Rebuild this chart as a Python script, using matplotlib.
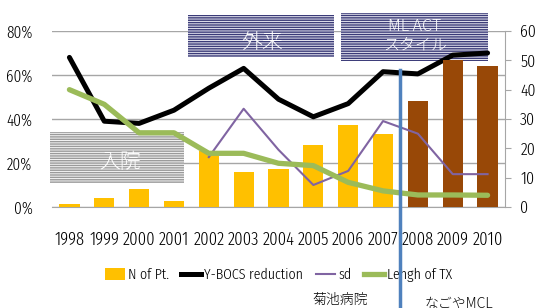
import matplotlib
matplotlib.use("Agg")
import matplotlib.pyplot as plt
from matplotlib.patches import Rectangle, Patch
from matplotlib.lines import Line2D
import matplotlib.ticker as ticker
import numpy as np

years = ["1998", "1999", "2000", "2001", "2002", "2003", "2004",
         "2005", "2006", "2007", "2008", "2009", "2010"]
n_pt = [1, 3, 6, 2, 19, 12, 13, 21, 28, 25, 36, 50, 48]
ybocs = [0.68, 0.39, 0.38, 0.44, 0.54, 0.63, 0.49, 0.41, 0.47, 0.615, 0.605, 0.69, 0.70]
sd_years = ["2002", "2003", "2004", "2005", "2006", "2007", "2008", "2009", "2010"]
sd_vals = [17, 33.5, 19.5, 7.5, 12.3, 29.3, 25, 11.2, 11.2]
len_tx = [40, 35, 25.3, 25.3, 18.3, 18.3, 14.9, 14.1, 8.4, 5.5, 4.1, 4.1, 4.0]

NARROW = ["Fira Sans Extra Condensed", "DejaVu Sans"]
JP = ["Noto Sans CJK JP", "DejaVu Sans"]
plt.rcParams["font.weight"] = 300

YELLOW = "#FFC000"
BROWN = "#984807"
GRID = "#A6A6A6"

fig = plt.figure(figsize=(5.38, 3.08), dpi=100)
W, H = 538, 308
ax = fig.add_axes([52 / W, (H - 207) / H, (505 - 52) / W, (207 - 31) / H])
ax2 = ax.twinx()

x = np.arange(len(years))
sd_x = [years.index(y) for y in sd_years]

# left axis: percent scale, grid, Y-BOCS line
ax.set_xlim(-0.5, len(years) - 0.5)
ax.set_ylim(0, 0.8)
ax.yaxis.set_major_locator(ticker.MultipleLocator(0.2))
ax.yaxis.set_major_formatter(ticker.FuncFormatter(lambda v, p: f"{v * 100:.0f}%"))
ax.grid(axis="y", color=GRID, linewidth=1)
ax.set_axisbelow(True)
for s in ("top", "left", "right"):
    ax.spines[s].set_visible(False)
ax.spines["bottom"].set_color(GRID)
ax.tick_params(axis="y", length=0, pad=14)
ax.tick_params(axis="x", length=0, pad=17)
ax.set_xticks(x)
ax.set_xticklabels(years, fontfamily=NARROW, fontsize=13)
for lab in ax.get_yticklabels():
    lab.set_fontfamily(NARROW)
    lab.set_fontsize(12)

ax.plot(x, ybocs, color="black", linewidth=3.6, zorder=4, solid_capstyle="round")

# annotation boxes
def hatched_box(x0, x1, y0, y1, edge, face):
    r = Rectangle((x0, y0), x1 - x0, y1 - y0, facecolor=face, edgecolor=edge,
                  hatch="-------", linewidth=0, clip_on=False, zorder=3)
    ax.add_patch(r)

hatched_box(3.39, 7.6, 0.680, 0.873, "#3B3B78", "#E6E6F0")
hatched_box(7.79, 12.0, 0.665, 0.880, "#3B3B78", "#E6E6F0")
hatched_box(-0.56, 3.29, 0.109, 0.341, "#9A9A9A", "#F4F4F4")

ax.text(5.52, 0.751, "外来", color="white", fontsize=15, family=JP,
        ha="center", va="center", zorder=5, clip_on=False)
ax.text(9.92, 0.777, "ML ACT\nスタイル", color="white", fontsize=11.5, family=JP,
        ha="center", va="center", zorder=5, linespacing=1.15, clip_on=False)
ax.text(1.45, 0.2045, "入院", color="white", fontsize=15, family=JP,
        ha="center", va="center", zorder=5)

# right axis: counts and lengths
ax2.set_ylim(0, 60)
ax2.yaxis.set_major_locator(ticker.MultipleLocator(10))
bar_colors = [YELLOW] * 10 + [BROWN] * 3
ax2.bar(x, n_pt, width=0.58, color=bar_colors, edgecolor="none", zorder=2)
ax2.plot(sd_x, sd_vals, color="#8064A2", linewidth=1.5, zorder=3)
ax2.plot(x, len_tx, color="#9BBB59", linewidth=3.8, zorder=4, solid_capstyle="round")
for s in ("top", "left", "bottom"):
    ax2.spines[s].set_visible(False)
ax2.spines["right"].set_color(GRID)
ax2.tick_params(axis="y", direction="out", length=4, color=GRID, pad=7)
for lab in ax2.get_yticklabels():
    lab.set_fontfamily(NARROW)
    lab.set_fontsize(12.5)

# divider between hospitals
ax2.axvline(9.5, ymin=-0.6, ymax=0.778, color="#4F81BD", linewidth=2.5,
            clip_on=False, zorder=6)

fig.text(340 / W, 1 - 300 / H, "菊池病院", family=JP, fontsize=10,
         ha="center", va="center")
fig.text(459 / W, 1 - 304 / H, "なごやMCL", family=JP, fontsize=10,
         ha="center", va="center")

handles = [
    Patch(facecolor=YELLOW, edgecolor="none"),
    Line2D([], [], color="black", linewidth=3.6),
    Line2D([], [], color="#8064A2", linewidth=1.5),
    Line2D([], [], color="#9BBB59", linewidth=3.8),
]
labels = ["N of Pt.", "Y-BOCS reduction", "sd", "Lengh of TX"]
ax2.legend(handles, labels, loc="center", bbox_to_anchor=(0.5, -0.386), ncol=4,
           frameon=False, handlelength=1.3, handleheight=0.8, handletextpad=0.2,
           columnspacing=0.8, prop={"family": NARROW, "size": 11, "weight": 300})

fig.savefig("out.png", dpi=100)
